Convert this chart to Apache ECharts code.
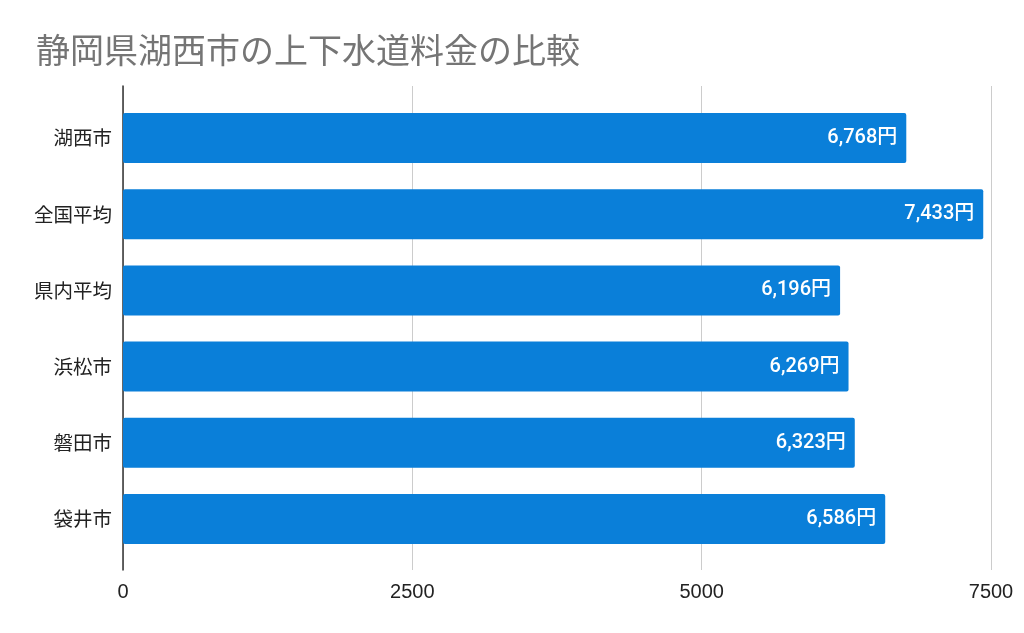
<!DOCTYPE html>
<html><head><meta charset="utf-8">
<script src="https://cdn.jsdelivr.net/npm/echarts@6/dist/echarts.min.js"></script>
<style>html,body{margin:0;padding:0;background:#fff}#c{width:1024px;height:633px}</style>
</head><body><div id="c"></div>
<script>
const titleText = '静岡県湖西市の上下水道料金の比較';
const categories = ['湖西市','全国平均','県内平均','浜松市','磐田市','袋井市'];
const values = [6768, 7433, 6196, 6269, 6323, 6586];
const xTicks = [0, 2500, 5000, 7500];

const font = '"Liberation Sans", "Noto Sans CJK JP", sans-serif';
const cjk = '"Noto Sans CJK JP", "Noto Sans", sans-serif';
const chart = echarts.init(document.getElementById('c'));
chart.setOption({
  animation: false,
  title: { text: titleText, left: 31, top: 28, textStyle: { color: '#757575', fontSize: 34, fontWeight: 'normal', fontFamily: cjk } },
  grid: [
    { left: 123, right: 33, top: 86, bottom: 63 },
    { left: 123, right: 33, top: 100, bottom: 76 }
  ],
  xAxis: [
    { gridIndex: 0, type: 'value', min: xTicks[0], max: xTicks[xTicks.length-1], interval: 2500,
      axisLine: { show: false }, axisTick: { show: false },
      axisLabel: { color: '#222', fontSize: 20, margin: 12, fontFamily: font, formatter: v => String(v) },
      splitLine: { lineStyle: { color: '#cccccc', width: 1 } } },
    { gridIndex: 1, type: 'value', min: xTicks[0], max: xTicks[xTicks.length-1], show: false, splitLine: { show: false } }
  ],
  yAxis: [
    { gridIndex: 0, type: 'category', data: categories, axisLabel: { show: false }, axisTick: { show: false },
      axisLine: { lineStyle: { color: '#333', width: 1.5 } } },
    { gridIndex: 1, type: 'category', data: categories, inverse: true,
      axisLine: { show: false }, axisTick: { show: false },
      axisLabel: { color: '#222', fontSize: 19.5, margin: 11, fontFamily: cjk } }
  ],
  series: [{
    type: 'bar', xAxisIndex: 1, yAxisIndex: 1, data: values, barWidth: 50,
    itemStyle: { color: '#0a7fd9', borderRadius: 2 },
    label: { show: true, position: 'insideRight', distance: 9, color: '#fff', fontSize: 20, fontWeight: 500, fontFamily: '"Roboto", ' + font,
      formatter: p => p.value.toLocaleString('en-US') + '円' }
  }]
});
</script></body></html>
